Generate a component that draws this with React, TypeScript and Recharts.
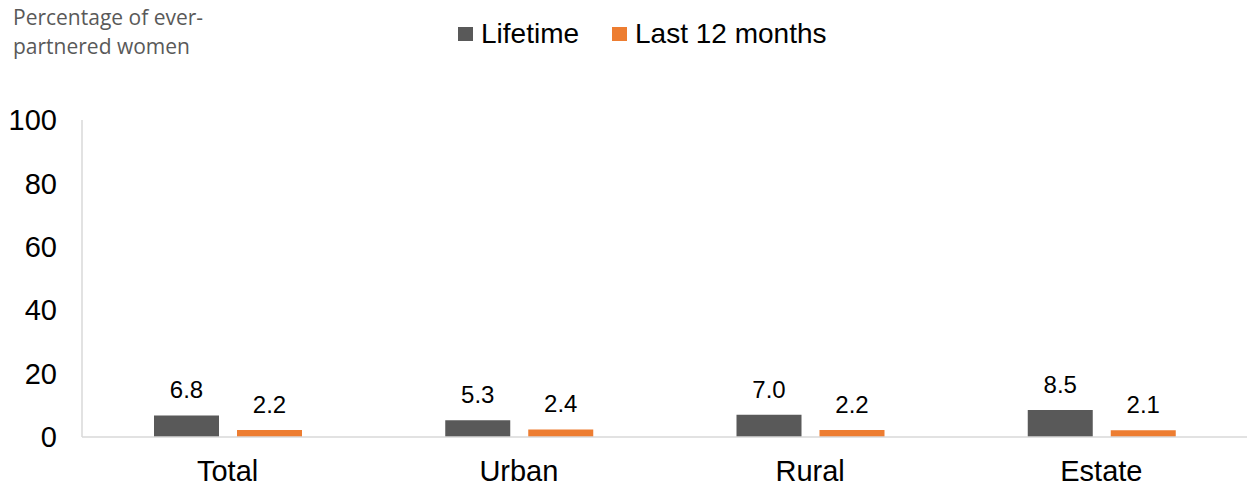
import React from 'react';
import { BarChart, Bar, XAxis, YAxis, Legend, LabelList } from 'recharts';

const CATEGORIES = ['Total', 'Urban', 'Rural', 'Estate'];
const LIFETIME = [6.8, 5.3, 7.0, 8.5];
const LAST_12_MONTHS = [2.2, 2.4, 2.2, 2.1];
const Y_TICKS = [0, 20, 40, 60, 80, 100];

const SERIES = [
  { key: 'lifetime', name: 'Lifetime', color: '#595959' },
  { key: 'last12', name: 'Last 12 months', color: '#ED7D31' },
];

const data = CATEGORIES.map((category, i) => ({
  category,
  lifetime: LIFETIME[i],
  last12: LAST_12_MONTHS[i],
}));

const FONT = '"Liberation Sans", Arial, sans-serif';

const renderLegend = () => (
  <div style={{ display: 'flex', alignItems: 'center', paddingLeft: 458, height: 40 }}>
    {SERIES.map((s, i) => (
      <div
        key={s.key}
        style={{ display: 'flex', alignItems: 'center', marginRight: i === 0 ? 33 : 0 }}
      >
        <span style={{ width: 15, height: 14, background: s.color, marginRight: 8, display: 'inline-block' }} />
        <span style={{ fontFamily: FONT, fontSize: 28, color: '#000', lineHeight: '40px' }}>{s.name}</span>
      </div>
    ))}
  </div>
);

const App: React.FC = () => {
  return (
    <div style={{ position: 'absolute', top: 0, left: 0, width: 1254, height: 489, background: '#fff' }}>
      <div
        style={{
          position: 'absolute',
          left: 13,
          top: 3,
          fontFamily: '"Open Sans", sans-serif',
          fontSize: 21,
          lineHeight: '29px',
          color: '#595959',
          zIndex: 2,
        }}
      >
        Percentage of ever-
        <br />
        partnered women
      </div>
      <BarChart
        width={1254}
        height={489}
        data={data}
        margin={{ top: 80, right: 7, bottom: 0, left: 0 }}
        barSize={65}
        barGap={18}
        style={{ fontFamily: FONT }}
      >
        <Legend
          verticalAlign="top"
          align="left"
          content={renderLegend}
          wrapperStyle={{ top: 14, left: 0, width: 1254, height: 40 }}
        />
        <XAxis
          dataKey="category"
          axisLine={{ stroke: '#d9d9d9', strokeWidth: 1.5 }}
          tickLine={false}
          tickSize={0}
          tickMargin={23}
          height={52}
          interval={0}
          tick={{ fontSize: 29, fill: '#000', fontFamily: FONT }}
        />
        <YAxis
          width={82}
          domain={[0, 100]}
          ticks={Y_TICKS}
          interval={0}
          axisLine={{ stroke: '#d9d9d9', strokeWidth: 1.5 }}
          tickLine={false}
          tickSize={0}
          tickMargin={25}
          tick={{ fontSize: 29, fill: '#000', fontFamily: FONT }}
        />
        {SERIES.map((s) => (
          <Bar key={s.key} dataKey={s.key} name={s.name} fill={s.color} isAnimationActive={false}>
            <LabelList
              dataKey={s.key}
              position="top"
              offset={17}
              formatter={(v: number) => v.toFixed(1)}
              style={{ fontSize: 24, fill: '#000', fontFamily: FONT }}
            />
          </Bar>
        ))}
      </BarChart>
    </div>
  );
};

export default App;
